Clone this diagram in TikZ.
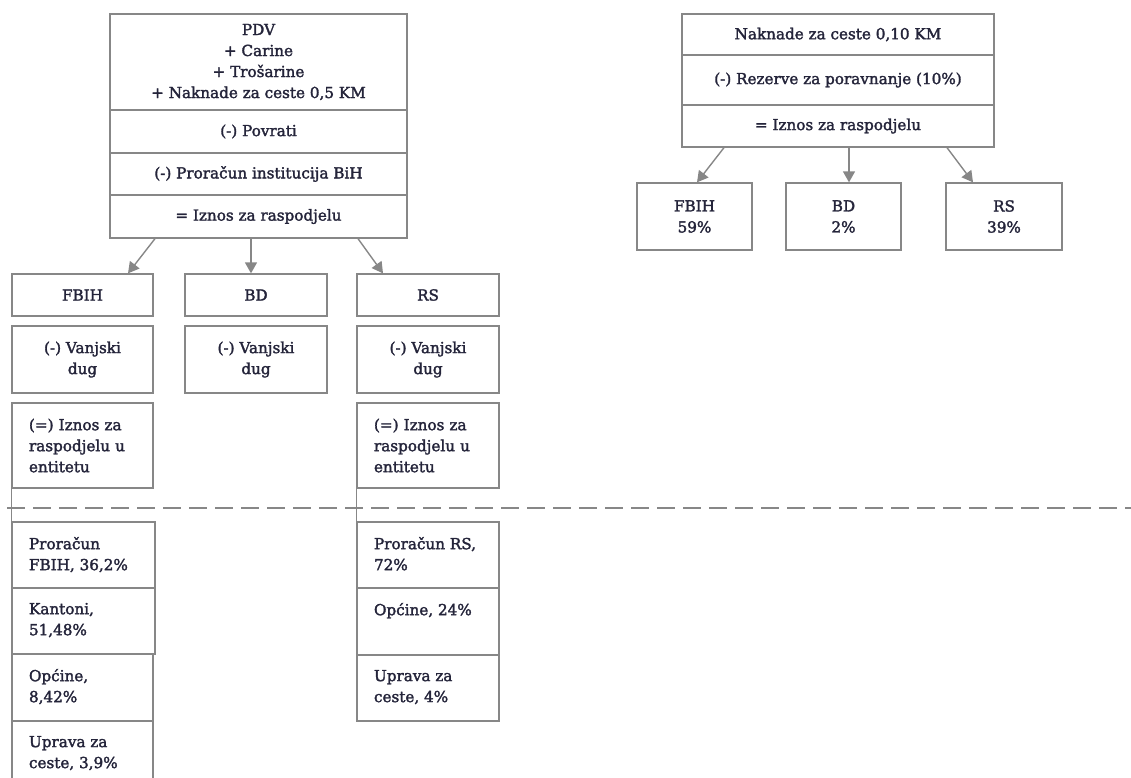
\documentclass[tikz,border=0pt]{standalone}
\usepackage{fontspec}
\setmainfont{DejaVu Serif}[FakeBold=2]
\usetikzlibrary{arrows.meta}
\definecolor{ink}{RGB}{36,36,58}
\definecolor{edge}{RGB}{135,135,135}
\newcommand\txtfont{\fontsize{15.2}{21}\selectfont}
\newcommand\topcell[3]{\parbox[c][#1][t]{#2}{\raggedright\vspace*{15pt}#3}}
\begin{document}
\begin{tikzpicture}[x=1pt,y=-1pt,
  cell/.style={draw=edge, line width=1.3pt, text=ink, inner sep=0pt, align=center, font=\txtfont},
  lcell/.style={cell, align=left, inner xsep=17pt, text width=#1},
  bcell/.style={cell, inner xsep=17pt, align=left},
  arr/.style={draw=edge, line width=1.4pt, -{Triangle[length=11pt,width=12pt]}},
  link/.style={draw=edge, line width=1.4pt},
  divider/.style={draw=edge, line width=1.5pt, dash pattern=on 18pt off 8pt}]
\useasboundingbox (0,0) rectangle (1131,778);
\clip (0,0) rectangle (1131,778);
% main block
\node[cell, minimum width=297pt, minimum height=96pt] (m1) at (258.5,62) {PDV\\+ Carine\\+ Trošarine\\+ Naknade za ceste 0,5 KM};
\node[cell, minimum width=297pt, minimum height=43pt] (m2) at (258.5,131.5) {(-) Povrati};
\node[cell, minimum width=297pt, minimum height=42pt] (m3) at (258.5,174) {(-) Proračun institucija BiH};
\node[cell, minimum width=297pt, minimum height=43pt] (m4) at (258.5,216.5) {= Iznos za raspodjelu};
% entity row
\node[cell, minimum width=141pt, minimum height=42pt] (f1) at (82.5,295) {FBIH};
\node[cell, minimum width=142pt, minimum height=42pt] (b1) at (256,295) {BD};
\node[cell, minimum width=142pt, minimum height=42pt] (r1) at (428,295) {RS};
\node[cell, minimum width=141pt, minimum height=67pt] (f2) at (82.5,359.5) {(-) Vanjski\\dug};
\node[cell, minimum width=142pt, minimum height=67pt] (b2) at (256,359.5) {(-) Vanjski\\dug};
\node[cell, minimum width=142pt, minimum height=67pt] (r2) at (428,359.5) {(-) Vanjski\\dug};
\node[lcell=107pt, minimum height=85pt] (f3) at (82.5,445.5) {(=) Iznos za\\raspodjelu u\\entitetu};
\node[lcell=108pt, minimum height=85pt] (r3) at (428,445.5) {(=) Iznos za\\raspodjelu u\\entitetu};
% bottom FBIH
\node[bcell] (f4) at (83.5,555) {\topcell{66pt}{109pt}{Proračun\\FBIH, 36,2\%}};
\node[bcell] (f5) at (83.5,621) {\topcell{66pt}{109pt}{Kantoni,\\51,48\%}};
\node[bcell] (f6) at (82.5,687.5) {\topcell{67pt}{107pt}{Općine,\\8,42\%}};
\node[bcell] (f7) at (82.5,755.5) {\topcell{69pt}{107pt}{Uprava za\\ceste, 3,9\%}};
% bottom RS
\node[bcell] (r4) at (428,555) {\topcell{66pt}{108pt}{Proračun RS,\\72\%}};
\node[bcell] (r5) at (428,621.5) {\topcell{67pt}{108pt}{Općine, 24\%}};
\node[bcell] (r6) at (428,688) {\topcell{66pt}{108pt}{Uprava za\\ceste, 4\%}};
% right block
\node[cell, minimum width=312pt, minimum height=41pt] (n1) at (838,34.5) {Naknade za ceste 0,10 KM};
\node[cell, minimum width=312pt, minimum height=50pt] (n2) at (838,80) {(-) Rezerve za poravnanje (10\%)};
\node[cell, minimum width=312pt, minimum height=42pt] (n3) at (838,126) {= Iznos za raspodjelu};
\node[cell, minimum width=115pt, minimum height=67pt] (s1) at (694.5,216.5) {FBIH\\59\%};
\node[cell, minimum width=115pt, minimum height=67pt] (s2) at (843.5,216.5) {BD\\2\%};
\node[cell, minimum width=116pt, minimum height=67pt] (s3) at (1004,216.5) {RS\\39\%};
% arrows
\draw[arr] ([xshift=-103.5pt]m4.south) -- ([xshift=45.5pt]f1.north);
\draw[arr] ([xshift=-7.5pt]m4.south) -- ([xshift=-5pt]b1.north);
\draw[arr] ([xshift=99.5pt]m4.south) -- ([xshift=-45pt]r1.north);
\draw[arr] ([xshift=-114pt]n3.south) -- ([xshift=2.5pt]s1.north);
\draw[arr] ([xshift=11pt]n3.south) -- ([xshift=5.5pt]s2.north);
\draw[arr] ([xshift=109pt]n3.south) -- ([xshift=-31pt]s3.north);
% links
\draw[link] (f3.south west) -- (f4.north west);
\draw[link] (r3.south west) -- (r4.north west);
% divider
\coordinate (dl) at (7,508);
\coordinate (dr) at (1131,508);
\draw[divider] (dl) -- (dr);
\end{tikzpicture}
\end{document}
